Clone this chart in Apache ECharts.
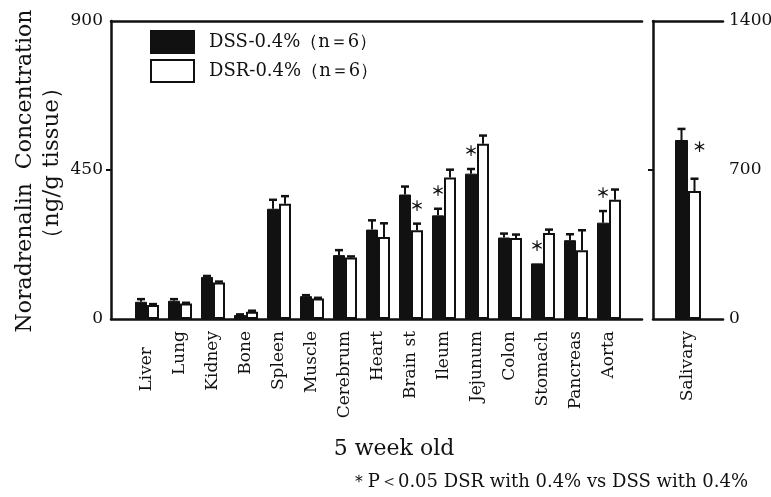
<!DOCTYPE html>
<html>
<head>
<meta charset="utf-8">
<script src="https://cdn.jsdelivr.net/npm/echarts@6/dist/echarts.min.js"></script>
<style>
  html, body { margin: 0; padding: 0; background: #fff; }
  #chart { width: 771px; height: 497px; }
</style>
</head>
<body>
<div id="chart"></div>
<script>
// Noradrenalin content per tissue, 5-week-old rats (mean and SEM, ng/g tissue)
const CATEGORIES = ['Liver', 'Lung', 'Kidney', 'Bone', 'Spleen', 'Muscle', 'Cerebrum', 'Heart',
  'Brain st', 'Ileum', 'Jejunum', 'Colon', 'Stomach', 'Pancreas', 'Aorta'];
const DSS_MEAN = [52, 55, 127, 12, 333, 69, 193, 270, 376, 313, 439, 246, 168, 238, 291];
const DSS_SEM  = [8, 5, 3, 2, 27, 3, 15, 28, 24, 20, 14, 12, 0, 18, 35];
const DSR_MEAN = [42, 47, 110, 22, 348, 62, 186, 248, 268, 427, 529, 245, 260, 208, 360];
const DSR_SEM  = [3, 2, 3, 3, 23, 2, 3, 41, 20, 24, 25, 10, 10, 60, 31];
// 1 = significance star above the error bar, 2 = star beside the bar top
const DSS_SIG  = [0, 0, 0, 0, 0, 0, 0, 0, 0, 1, 1, 0, 1, 0, 1];
const DSR_SIG  = [0, 0, 0, 0, 0, 0, 0, 0, 1, 0, 0, 0, 0, 0, 0];

// Salivary gland, plotted against its own scale
const SAL_CATEGORIES = ['Salivary'];
const SAL_DSS_MEAN = [841];
const SAL_DSS_SEM  = [52];
const SAL_DSR_MEAN = [601];
const SAL_DSR_SEM  = [58];
const SAL_DSS_SIG  = [2];
const SAL_DSR_SIG  = [0];

// Axis scales
const LEFT_AXIS  = { min: 0, max: 900, interval: 450 };
const RIGHT_AXIS = { min: 0, max: 1400, interval: 700 };

const DSS_NAME = 'DSS-0.4%（n＝6）';
const DSR_NAME = 'DSR-0.4%（n＝6）';

const SERIF = '"DejaVu Serif", "Liberation Serif", serif';
const INK = '#111';

function rows(mean, sem, sig) {
  return mean.map((m, i) => [i, m, sem[i], sig[i]]);
}

function errorRenderer(shift) {
  return function (params, api) {
    const i = api.value(0), m = api.value(1), e = api.value(2), s = api.value(3);
    const base = api.coord([i, m]);
    const top = api.coord([i, m + e]);
    const x = base[0] + shift;
    const children = [];
    if (e > 0) {
      children.push({ type: 'line', shape: { x1: x, y1: base[1], x2: x, y2: top[1] },
        style: { stroke: INK, lineWidth: 2 } });
      children.push({ type: 'line', shape: { x1: x - 4, y1: top[1], x2: x + 4, y2: top[1] },
        style: { stroke: INK, lineWidth: 2.5 } });
    }
    if (s === 1 || s === 2) {
      const tx = s === 1 ? x : x + 18;
      const ty = s === 1 ? top[1] - 18 : base[1] + 7;
      children.push({ type: 'text', x: tx, y: ty,
        style: { text: '＊', fill: INK, font: 'bold 14px "Noto Sans CJK JP"',
                 textAlign: 'center', textVerticalAlign: 'middle' } });
    }
    return { type: 'group', children: children };
  };
}

const frameLine = { show: true, lineStyle: { color: INK, width: 2.5 } };
const catLabel = {
  rotate: 90, margin: 12, color: INK, fontSize: 17, fontFamily: SERIF
};

const chart = echarts.init(document.getElementById('chart'), null, { renderer: 'canvas' });

chart.setOption({
  animation: false,
  backgroundColor: '#fff',
  grid: [
    { left: 111, top: 21, width: 531, height: 298, outerBoundsMode: 'none', containLabel: false },   // frame of the main panel
    { left: 130.5, top: 21, width: 495, height: 298, outerBoundsMode: 'none', containLabel: false }, // bars of the main panel
    { left: 653, top: 21, width: 70, height: 298, outerBoundsMode: 'none', containLabel: false }     // salivary panel
  ],
  xAxis: [
    { gridIndex: 0, type: 'value', min: 0, max: 1, position: 'bottom',
      axisLine: frameLine, axisTick: { show: false }, axisLabel: { show: false }, splitLine: { show: false } },
    { gridIndex: 0, type: 'value', min: 0, max: 1, position: 'top',
      axisLine: frameLine, axisTick: { show: false }, axisLabel: { show: false }, splitLine: { show: false } },
    { gridIndex: 1, type: 'category',
      data: CATEGORIES.map((c, i) => i === 0 ? { value: c, textStyle: { padding: [0, 16, 0, 0] } } : c),
      axisLine: { show: false }, axisTick: { show: false },
      axisLabel: Object.assign({ interval: 0 }, catLabel) },
    { gridIndex: 2, type: 'category', data: SAL_CATEGORIES,
      axisLine: frameLine, axisTick: { show: false },
      axisLabel: Object.assign({ interval: 0 }, catLabel) },
    { gridIndex: 2, type: 'value', min: 0, max: 1, position: 'top',
      axisLine: frameLine, axisTick: { show: false }, axisLabel: { show: false }, splitLine: { show: false } }
  ],
  yAxis: [
    { gridIndex: 0, type: 'value', position: 'left',
      min: LEFT_AXIS.min, max: LEFT_AXIS.max, interval: LEFT_AXIS.interval,
      axisLine: frameLine,
      axisTick: { show: true, inside: false, length: 5, customValues: [450], lineStyle: { color: INK, width: 2 } },
      axisLabel: { margin: 8, color: INK, fontSize: 17, fontFamily: SERIF, formatter: v => String(v) },
      splitLine: { show: false } },
    { gridIndex: 1, type: 'value',
      min: LEFT_AXIS.min, max: LEFT_AXIS.max, interval: LEFT_AXIS.interval,
      show: false, splitLine: { show: false } },
    { gridIndex: 2, type: 'value', position: 'right',
      min: RIGHT_AXIS.min, max: RIGHT_AXIS.max, interval: RIGHT_AXIS.interval,
      axisLine: frameLine,
      axisTick: { show: true, inside: true, length: 5, customValues: [700], lineStyle: { color: INK, width: 2 } },
      axisLabel: { margin: 6, color: INK, fontSize: 17, fontFamily: SERIF, formatter: v => String(v) },
      splitLine: { show: false } }
  ],
  legend: {
    left: 150, top: 30, orient: 'vertical', padding: 0,
    itemWidth: 43, itemHeight: 22, itemGap: 5, icon: 'rect',
    data: [DSS_NAME, DSR_NAME],
    textStyle: { color: INK, fontSize: 18, fontFamily: SERIF, padding: [0, 0, 0, 10] }
  },
  graphic: [
    { type: 'text', x: 25, y: 171, rotation: Math.PI / 2,
      style: { text: 'Noradrenalin  Concentration', fill: INK, font: '22px ' + SERIF,
               textAlign: 'center', textVerticalAlign: 'middle' } },
    { type: 'text', x: 52, y: 163, rotation: Math.PI / 2,
      style: { text: '（ng/g tissue）', fill: INK, font: '23px ' + SERIF,
               textAlign: 'center', textVerticalAlign: 'middle' } },
    { type: 'text', x: 394, y: 449,
      style: { text: '5 week old', fill: INK, font: '22px ' + SERIF,
               textAlign: 'center', textVerticalAlign: 'middle' } },
    { type: 'text', x: 748, y: 482,
      style: { text: '＊P＜0.05 DSR with 0.4% vs DSS with 0.4%', fill: INK, font: '18px ' + SERIF,
               textAlign: 'right', textVerticalAlign: 'middle' } }
  ],
  series: [
    { name: DSS_NAME, type: 'bar', xAxisIndex: 2, yAxisIndex: 1, data: DSS_MEAN,
      barWidth: 12, barGap: '0%', itemStyle: { color: INK, borderColor: INK, borderWidth: 1 } },
    { name: DSR_NAME, type: 'bar', xAxisIndex: 2, yAxisIndex: 1, data: DSR_MEAN,
      barWidth: 12, barGap: '0%', itemStyle: { color: '#fff', borderColor: INK, borderWidth: 2 } },
    { name: DSS_NAME, type: 'custom', xAxisIndex: 2, yAxisIndex: 1, z: 5,
      renderItem: errorRenderer(-6), data: rows(DSS_MEAN, DSS_SEM, DSS_SIG), encode: { x: 0, y: 1 } },
    { name: DSR_NAME, type: 'custom', xAxisIndex: 2, yAxisIndex: 1, z: 5,
      renderItem: errorRenderer(6), data: rows(DSR_MEAN, DSR_SEM, DSR_SIG), encode: { x: 0, y: 1 } },

    { name: DSS_NAME, type: 'bar', xAxisIndex: 3, yAxisIndex: 2, data: SAL_DSS_MEAN,
      barWidth: 13, barGap: '0%', itemStyle: { color: INK, borderColor: INK, borderWidth: 1 } },
    { name: DSR_NAME, type: 'bar', xAxisIndex: 3, yAxisIndex: 2, data: SAL_DSR_MEAN,
      barWidth: 13, barGap: '0%', itemStyle: { color: '#fff', borderColor: INK, borderWidth: 2 } },
    { name: DSS_NAME, type: 'custom', xAxisIndex: 3, yAxisIndex: 2, z: 5,
      renderItem: errorRenderer(-6.5), data: rows(SAL_DSS_MEAN, SAL_DSS_SEM, SAL_DSS_SIG), encode: { x: 0, y: 1 } },
    { name: DSR_NAME, type: 'custom', xAxisIndex: 3, yAxisIndex: 2, z: 5,
      renderItem: errorRenderer(6.5), data: rows(SAL_DSR_MEAN, SAL_DSR_SEM, SAL_DSR_SIG), encode: { x: 0, y: 1 } }
  ]
});
</script>
</body>
</html>
